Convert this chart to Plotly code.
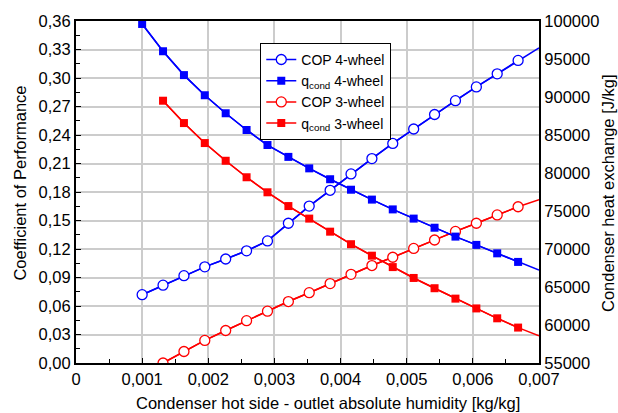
import plotly.graph_objects as go

# Outlet absolute humidity on the condenser hot side [kg/kg]
humidity = [0.001, 0.001316, 0.001632, 0.001947, 0.002263, 0.002579, 0.002895,
            0.003211, 0.003526, 0.003842, 0.004158, 0.004474, 0.004789, 0.005105,
            0.005421, 0.005737, 0.006053, 0.006368, 0.006684, 0.007]

# 4-wheel configuration (all humidity points)
cop_4wheel = [0.0719, 0.0819, 0.0919, 0.1012, 0.1095, 0.1181, 0.1285, 0.1471,
              0.1652, 0.1818, 0.1990, 0.2152, 0.2311, 0.2463, 0.2616, 0.2761,
              0.2906, 0.3044, 0.3185, 0.3316]
qcond_4wheel = [99610, 96020, 92880, 90230, 87860, 85660, 83680, 82120, 80610,
                79180, 77800, 76500, 75210, 74000, 72800, 71630, 70540, 69430,
                68300, 67230]

# 3-wheel configuration (starts at the second humidity point)
cop_3wheel = [0.0000, 0.0121, 0.0238, 0.0342, 0.0446, 0.0546, 0.0647, 0.0740,
              0.0836, 0.0933, 0.1026, 0.1113, 0.1206, 0.1295, 0.1385, 0.1471,
              0.1559, 0.1645, 0.1720]
qcond_3wheel = [89510, 86570, 83940, 81610, 79440, 77460, 75650, 74000, 72280,
                70630, 69120, 67620, 66190, 64840, 63470, 62180, 60880, 59660,
                58590]

x_tick_vals = [0, 0.001, 0.002, 0.003, 0.004, 0.005, 0.006, 0.007]
x_tick_text = ["0", "0,001", "0,002", "0,003", "0,004", "0,005", "0,006", "0,007"]
y_tick_vals = [0.00, 0.03, 0.06, 0.09, 0.12, 0.15, 0.18, 0.21, 0.24, 0.27, 0.30, 0.33, 0.36]
y2_tick_vals = [55000, 60000, 65000, 70000, 75000, 80000, 85000, 90000, 95000, 100000]

BLUE = "#0000ff"
RED = "#ff0000"
FONT = "Liberation Sans, Arial, sans-serif"
TEXT_SIZE = 16.5

fig = go.Figure()

x3 = humidity[1:]

series = [
    ("COP 4-wheel", humidity, cop_4wheel, BLUE, "circle-open", "y"),
    ("q<sub>cond</sub> 4-wheel", humidity, qcond_4wheel, BLUE, "square", "y2"),
    ("COP 3-wheel", x3, cop_3wheel, RED, "circle-open", "y"),
    ("q<sub>cond</sub> 3-wheel", x3, qcond_3wheel, RED, "square", "y2"),
]

for i, (name, xs, ys, color, symbol, yax) in enumerate(series):
    # full line, running to the right edge of the axis
    fig.add_trace(go.Scatter(
        x=xs, y=ys, mode="lines", yaxis=yax, legendgroup=f"g{i}",
        showlegend=False, hoverinfo="skip",
        line=dict(color=color, width=1.5),
    ))
    # markers on every point except the end point
    if symbol == "circle-open":
        marker = dict(symbol="circle", size=10, color="white",
                      line=dict(color=color, width=1.3))
    else:
        marker = dict(symbol="square", size=8, color=color,
                      line=dict(color=color, width=0))
    fig.add_trace(go.Scatter(
        x=xs[:-1], y=ys[:-1], mode="lines+markers", yaxis=yax, name=name,
        legendgroup=f"g{i}", line=dict(color=color, width=1.5), marker=marker,
    ))

fig.update_layout(
    width=618, height=413,
    margin=dict(l=76, r=79, t=15, b=50),
    paper_bgcolor="white", plot_bgcolor="white",
    font=dict(family=FONT, size=TEXT_SIZE, color="black"),
    separators=",.",
    showlegend=True,
    legend=dict(
        x=0.398, y=0.936, xanchor="left", yanchor="top",
        bgcolor="white", bordercolor="black", borderwidth=1,
        font=dict(family=FONT, size=14, color="black"),
        tracegroupgap=0,
    ),
    xaxis=dict(
        range=[0, 0.007], tickvals=x_tick_vals, ticktext=x_tick_text,
        showgrid=True, gridcolor="#cccccc", gridwidth=1.5,
        showline=True, linecolor="black", linewidth=2, mirror=True,
        ticks="inside", ticklen=5, tickcolor="black",
        minor=dict(dtick=0.0005, ticks="inside", ticklen=4, tickcolor="black", showgrid=False),
        zeroline=False,
    ),
    yaxis=dict(
        range=[0, 0.36], tickvals=y_tick_vals, tickformat=".2f",
        showgrid=True, gridcolor="#cccccc", gridwidth=1.5,
        showline=True, linecolor="black", linewidth=2,
        ticks="inside", ticklen=5, tickcolor="black",
        minor=dict(dtick=0.015, ticks="inside", ticklen=4, tickcolor="black", showgrid=False),
        zeroline=False,
    ),
    yaxis2=dict(
        range=[55000, 100000], tickvals=y2_tick_vals, tickformat="d",
        overlaying="y", side="right", anchor="x",
        showgrid=False, showline=True, linecolor="black", linewidth=2,
        ticks="", zeroline=False,
    ),
    annotations=[
        dict(text="Condenser hot side - outlet absolute humidity [kg/kg]",
             xref="paper", yref="paper", x=0.544, y=-0.116,
             xanchor="center", yanchor="middle", showarrow=False,
             font=dict(family=FONT, size=TEXT_SIZE, color="black")),
        dict(text="Coefficient of Performance",
             xref="paper", yref="paper", x=-0.120, y=0.526, textangle=-90,
             xanchor="center", yanchor="middle", showarrow=False,
             font=dict(family=FONT, size=TEXT_SIZE, color="black")),
        dict(text="Condenser heat exchange [J/kg]",
             xref="paper", yref="paper", x=1.149, y=0.497, textangle=-90,
             xanchor="center", yanchor="middle", showarrow=False,
             font=dict(family=FONT, size=TEXT_SIZE, color="black")),
    ],
)

fig.write_html("out.html")
